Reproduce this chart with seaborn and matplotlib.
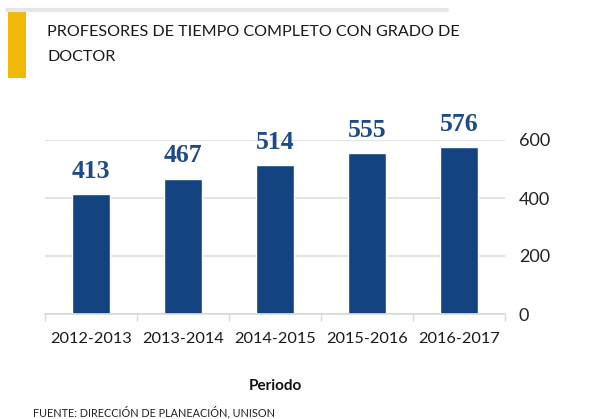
import matplotlib
matplotlib.use("Agg")
import matplotlib.pyplot as plt
import seaborn as sns
import pandas as pd
from matplotlib.patches import Rectangle
from matplotlib.lines import Line2D

periodos = ["2012-2013", "2013-2014", "2014-2015", "2015-2016", "2016-2017"]
profesores = [413, 467, 514, 555, 576]
yticks = [0, 200, 400, 600]

title = "PROFESORES DE TIEMPO COMPLETO CON GRADO DE\nDOCTOR"
xlabel = "Periodo"
footer = "FUENTE: DIRECCIÓN DE PLANEACIÓN, UNISON"

df = pd.DataFrame({"Periodo": periodos, "Profesores": profesores})

sns.set_theme(style="white")
plt.rcParams["font.family"] = ["Lato", "DejaVu Sans"]

W, H = 614, 419
fig = plt.figure(figsize=(W / 100, H / 100), dpi=100)
ax = fig.add_axes([45 / W, 1 - 314 / H, 460 / W, 174 / H])

bar_color = "#134480"
sns.barplot(data=df, x="Periodo", y="Profesores", color=bar_color,
            width=0.41, ax=ax, saturation=1)

ax.set_ylim(0, 600)
ax.set_xlim(-0.5, len(periodos) - 0.5)
ax.set_yticks(yticks)
ax.yaxis.tick_right()
ax.yaxis.set_label_position("right")
ax.tick_params(axis="y", length=0, pad=10, labelsize=13, labelcolor="#222222")
ax.tick_params(axis="x", length=0, pad=13, labelsize=11.8, labelcolor="#1a1a1a")
ax.set_xticks(range(len(periodos)))
ax.set_xticklabels(periodos)
ax.set_xticks([i - 0.5 for i in range(len(periodos) + 1)], minor=True)
ax.tick_params(axis="x", which="minor", length=5, width=1, color="#d9d9d9", bottom=True)

ax.grid(axis="y", color="#e3e3e3", linewidth=1.5)
ax.set_axisbelow(True)
for s in ["top", "left", "right"]:
    ax.spines[s].set_visible(False)
ax.spines["bottom"].set_color("#d9d9d9")
ax.spines["bottom"].set_linewidth(1.2)

ax.set_ylabel("")
ax.set_xlabel(xlabel, fontsize=11, fontweight="bold", color="#111111", labelpad=24)

for i, v in enumerate(profesores):
    ax.annotate(str(v), xy=(i, v), xytext=(0, 8), textcoords="offset points",
                ha="center", va="bottom", fontsize=18.5, fontweight="bold",
                color="#1f4a85", family="Liberation Serif", clip_on=False)

# header decorations
fig.add_artist(Line2D([7 / W, 447 / W], [1 - 10 / H, 1 - 10 / H],
                      transform=fig.transFigure, color="#e6e6e6", linewidth=3))
fig.add_artist(Rectangle((7.5 / W, 1 - 78 / H), 18.5 / W, 66 / H,
                         transform=fig.transFigure, color="#F0B90A", lw=0))
fig.text(47 / W, 1 - 25 / H, title, ha="left", va="top", fontsize=11.6,
         color="#1a1a1a", linespacing=2.0)
fig.text(33 / W, 1 - 412 / H, footer, ha="left", va="center", fontsize=7.8,
         color="#222222")

fig.savefig("out.png", dpi=100)
